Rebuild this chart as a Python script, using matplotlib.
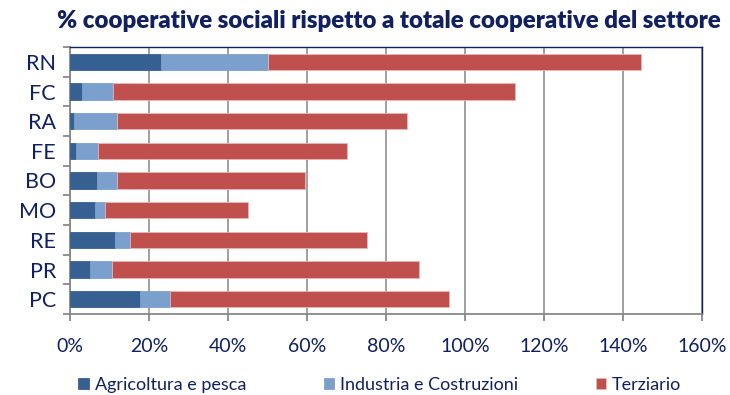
import numpy as np
import matplotlib.pyplot as plt
from matplotlib.ticker import FuncFormatter, FixedLocator

plt.rcParams['font.family'] = ['Lato', 'DejaVu Sans']

# Data (percent), top to bottom as in the chart
provinces = ['RN', 'FC', 'RA', 'FE', 'BO', 'MO', 'RE', 'PR', 'PC']
agricoltura = [23.1, 3.0, 1.1, 1.6, 6.8, 6.3, 11.5, 5.1, 17.6]
industria = [27.0, 7.9, 10.9, 5.6, 5.1, 2.6, 3.7, 5.6, 7.7]
terziario = [94.4, 101.7, 73.4, 62.8, 47.5, 36.1, 60.0, 77.7, 70.6]

series_names = ['Agricoltura e pesca', 'Industria e Costruzioni', 'Terziario']
colors = ['#376092', '#7BA0CD', '#C0504D']
navy = '#102060'

fig = plt.figure(figsize=(7.3, 3.95), dpi=100)
ax = fig.add_axes([70 / 730, 1 - 314 / 395, 632 / 730, 267 / 395])

y = np.arange(len(provinces))[::-1]
left = np.zeros(len(provinces))
for vals, name, c in zip([agricoltura, industria, terziario], series_names, colors):
    vals = np.array(vals)
    ax.barh(y, vals, left=left, height=0.55, color=c, edgecolor='#E8B8B6' if c == '#C0504D' else c,
            linewidth=0.6, label=name, zorder=3)
    left += vals

ax.set_xlim(0, 160)
ax.set_ylim(-0.5, len(provinces) - 0.5)
ax.set_xticks(np.arange(0, 161, 20))
ax.xaxis.set_major_formatter(FuncFormatter(lambda v, p: f'{int(v)}%'))
ax.grid(axis='x', color='#999999', linewidth=1.3, zorder=0)

ax.set_yticks(y)
ax.set_yticklabels(provinces)
ax.yaxis.set_minor_locator(FixedLocator(np.arange(-0.5, len(provinces), 1.0)))
ax.tick_params(axis='y', which='major', length=0, pad=10, labelsize=15.5, labelcolor=navy)
ax.tick_params(axis='y', which='minor', length=5, width=1.3, color='#888888')
ax.tick_params(axis='x', which='major', length=5, width=1.3, color='#888888',
               pad=12, labelsize=14, labelcolor=navy)

for s in ['left', 'bottom']:
    ax.spines[s].set_color('#888888')
    ax.spines[s].set_linewidth(1.3)
for s in ['top', 'right']:
    ax.spines[s].set_color(navy)
    ax.spines[s].set_linewidth(1.0)

fig.text(389 / 730, 1 - 21 / 395, '% cooperative sociali rispetto a totale cooperative del settore',
         ha='center', va='center', fontsize=17.3, fontweight='heavy', color=navy)

ax.legend(loc='center', bbox_to_anchor=(0.49, -0.265), ncol=3, frameon=False,
          fontsize=13, handlelength=0.6, handleheight=0.6, handletextpad=0.3,
          columnspacing=4.3, labelcolor=navy)

fig.savefig('out.png', dpi=100)
